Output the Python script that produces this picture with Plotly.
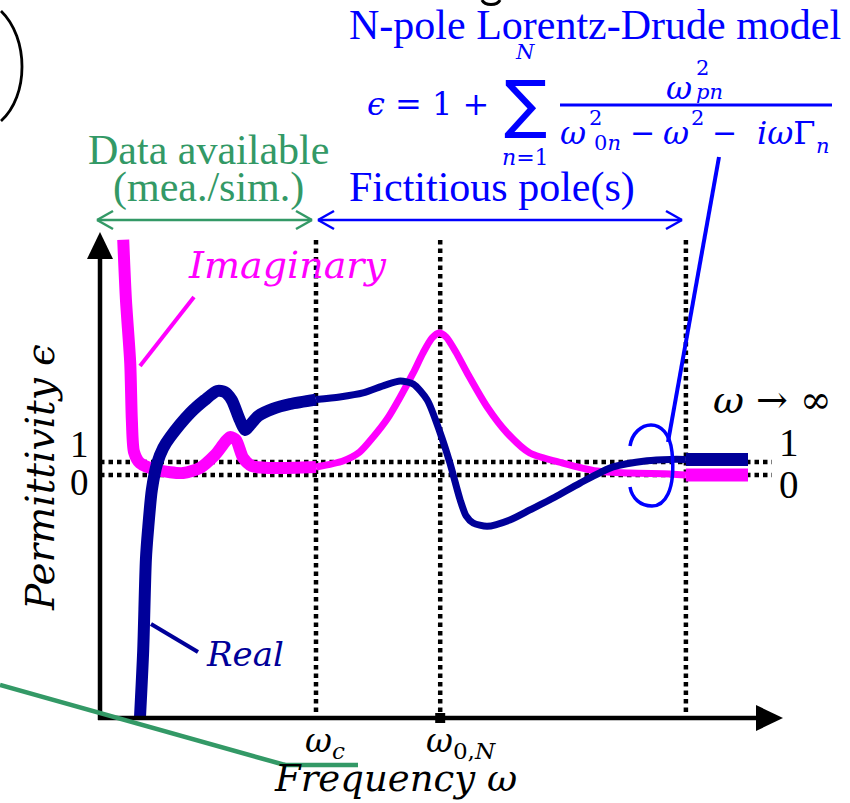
import plotly.graph_objects as go

# ---------------- data (arbitrary schematic units) ----------------
# frequency axis: omega ; permittivity axis: epsilon
omega_c = 4.0
omega_0N = 6.3
omega_inf = 10.85

real_x = [0.74, 0.80, 0.85, 0.89, 0.96, 1.06, 1.17, 1.30, 1.67, 1.94, 2.17, 2.31, 2.44, 2.59,
          2.69, 2.78, 2.93, 3.20, 3.52, 4.00, 4.44, 4.87, 5.28, 5.56, 5.80, 6.06, 6.30, 6.48,
          6.67, 6.78, 6.91, 7.17, 7.59, 7.96, 8.43, 8.89, 9.50, 10.13, 10.56, 10.85, 12.00]
real_y = [-18.7, -13.5, -6.5, -4.2, -1.15, 0.92, 2.08, 2.92, 4.77, 5.77, 6.46, 6.38, 5.77, 4.23,
          3.46, 3.85, 4.54, 5.08, 5.46, 5.80, 6.00, 6.31, 6.92, 7.23, 7.0, 5.77, 3.23, 0.92,
          -1.92, -3.15, -3.69, -3.95, -3.46, -2.69, -1.69, -0.62, 0.62, 1.1, 1.2, 1.2, 1.2]

imag_x = [0.43, 0.48, 0.56, 0.59, 0.63, 0.74, 1.06, 1.54, 1.85, 2.13, 2.41, 2.52, 2.65, 2.81,
          3.15, 4.00, 4.50, 4.81, 5.06, 5.33, 5.56, 5.80, 5.98, 6.15, 6.28, 6.41, 6.59, 6.80,
          7.17, 7.54, 7.96, 8.57, 9.20, 9.81, 10.56, 10.85, 12.00]
imag_y = [18.1, 13.5, 8.6, 4.2, 1.77, 0.92, 0.38, 0.15, 0.54, 1.54, 2.92, 2.69, 1.31, 0.69,
          0.54, 0.62, 1.08, 1.77, 2.92, 4.38, 6.0, 7.85, 9.38, 10.54, 10.92, 10.62, 9.46, 7.85,
          5.23, 3.23, 1.69, 0.92, 0.31, 0.15, 0.08, 0.0, 0.0]

y_ticks = [1, 0]

# ---------------- helpers: pixel position -> axis units ----------------
W, H = 850, 803
def X(px):
    return (px - 100) / 54.0
def Y(py):
    return (475 - py) / 13.0

NAVY = "#000099"
MAG = "#FF00FF"
BLUE = "#0000FF"
GREEN = "#339966"
SERIF = "Liberation Serif"
MATH = "DejaVu Serif"

fig = go.Figure()

def seg(xs, ys, lo, hi):
    sx, sy = [], []
    for a, b in zip(xs, ys):
        if lo <= a <= hi:
            sx.append(a); sy.append(b)
    return sx, sy

# curve segments with different stroke widths
for xs, ys, col in [(imag_x, imag_y, MAG), (real_x, real_y, NAVY)]:
    for lo, hi, w in [(-1, omega_c, 12), (omega_c, omega_inf, 7), (omega_inf, 99, 13)]:
        sx, sy = seg(xs, ys, lo, hi)
        fig.add_trace(go.Scatter(x=sx, y=sy, mode="lines",
                                 line=dict(color=col, width=w, shape="spline", smoothing=0.7),
                                 hoverinfo="skip", showlegend=False))

# tick marker at omega_0N
fig.add_trace(go.Scatter(x=[omega_0N], y=[Y(718)], mode="markers",
                         marker=dict(symbol="square", size=10, color="black"),
                         hoverinfo="skip", showlegend=False))

shapes = []
def line(p1, p2, color, width, dash=None, layer="above"):
    d = dict(type="line", xref="x", yref="y", x0=X(p1[0]), y0=Y(p1[1]), x1=X(p2[0]), y1=Y(p2[1]),
             line=dict(color=color, width=width), layer=layer)
    if dash:
        d["line"]["dash"] = dash
    shapes.append(d)

def path(points, color, width=0, fill=None, closed=False, cmd=None):
    s = cmd
    if s is None:
        s = "M " + " L ".join(f"{X(a)},{Y(b)}" for a, b in points)
        if closed:
            s += " Z"
    d = dict(type="path", xref="x", yref="y", path=s, line=dict(color=color, width=width))
    if fill:
        d["fillcolor"] = fill
    shapes.append(d)

DOT = "4.5px,4px"
# dotted guide lines
for ox in [omega_c, omega_0N, omega_inf]:
    shapes.append(dict(type="line", xref="x", yref="y", x0=ox, x1=ox, y0=Y(240), y1=Y(718),
                       line=dict(color="black", width=4.5, dash=DOT), layer="below"))
for yv in y_ticks:
    shapes.append(dict(type="line", xref="x", yref="y", x0=X(100), x1=X(772), y0=yv, y1=yv,
                       line=dict(color="black", width=4.5, dash=DOT), layer="below"))

# axes with arrow heads
line((100, 720), (100, 255), "black", 4.5)
path([(100, 232), (87, 259), (113, 259)], "black", 0, fill="black", closed=True)
line((98, 718), (758, 718), "black", 4.5)
path([(783, 718), (756, 705), (756, 731)], "black", 0, fill="black", closed=True)

# range arrows
def dbl_arrow(xa, xb, yy, col):
    line((xa, yy), (xb, yy), col, 2.5)
    line((xa, yy), (xa + 16, yy - 9), col, 2.5)
    line((xa, yy), (xa + 16, yy + 9), col, 2.5)
    line((xb, yy), (xb - 16, yy - 9), col, 2.5)
    line((xb, yy), (xb - 16, yy + 9), col, 2.5)
dbl_arrow(97, 312, 220, GREEN)
dbl_arrow(318, 682, 220, BLUE)

# pointer lines
line((140, 366), (194, 297), MAG, 4)
line((151, 624), (198, 652), NAVY, 4)
line((719, 157), (668, 442), BLUE, 4)
def P(a, b):
    return f"{X(a)},{Y(b)}"
# loop around the asymptote
loop = ("M " + P(630, 446) + " C " + P(634, 420) + " " + P(668, 414) + " " + P(672, 452)
        + " C " + P(676, 492) + " " + P(664, 506) + " " + P(652, 506)
        + " C " + P(640, 506) + " " + P(632, 498) + " " + P(630, 487))
path(None, BLUE, 3.5, cmd=loop)
# green leader at bottom
line((0, 685), (285, 765), GREEN, 4.5)
line((284, 765), (358, 765), GREEN, 4.5)
# fragment of glyph at top edge
frag = "M " + P(482, 0) + " C " + P(485, 6) + " " + P(497, 6) + " " + P(500, 0)
path(None, "black", 3, cmd=frag)
# large closing parenthesis at top-left
paren = "M " + P(1, 11) + " C " + P(29, 38) + " " + P(29, 96) + " " + P(1, 121)
path(None, "black", 2.8, cmd=paren)
# fraction bar
line((560, 105), (832, 105), BLUE, 3)

ann = []
def txt(px, py, s, size, color, family=SERIF, angle=0, xanchor="center"):
    ann.append(dict(x=X(px), y=Y(py), xref="x", yref="y", text=s, showarrow=False,
                    font=dict(size=size, color=color, family=family),
                    xanchor=xanchor, yanchor="middle", textangle=angle))

txt(595, 25, "N-pole Lorentz-Drude model", 42, BLUE)
txt(208, 150, "Data available", 42, GREEN)
txt(208, 187, "(mea./sim.)", 42, GREEN)
txt(492, 187, "Fictitious pole(s)", 42, BLUE)

# formula
txt(428, 104, "<i>ϵ</i> = 1 +", 32, BLUE, MATH)
txt(525, 104, "∑", 64, BLUE, "DejaVu Sans")
txt(525, 52, "<i>N</i>", 21, BLUE, MATH)
txt(525, 157, "<i>n</i>=1", 22, BLUE, MATH)
txt(679, 88, "<i>ω</i>", 32, BLUE, MATH)
txt(702, 68, "2", 21, BLUE, MATH)
txt(709, 92, "<i>pn</i>", 21, BLUE, MATH)
txt(573, 133, "<i>ω</i>", 32, BLUE, MATH)
txt(595, 118, "2", 21, BLUE, MATH)
txt(607, 143, "0<i>n</i>", 21, BLUE, MATH)
txt(642, 132, "−", 30, BLUE, MATH)
txt(676, 133, "<i>ω</i>", 32, BLUE, MATH)
txt(697, 118, "2", 21, BLUE, MATH)
txt(724, 132, "−", 30, BLUE, MATH)
txt(786, 133, "<i>iω</i>Γ", 32, BLUE, MATH)
txt(823, 146, "<i>n</i>", 21, BLUE, MATH)

txt(287, 265, "<i>Imaginary</i>", 38, MAG, MATH)
txt(245, 654, "<i>Real</i>", 34, NAVY, MATH)
txt(40, 478, "<i>Permittivity ϵ</i>", 39, "black", MATH, angle=-90)
txt(395, 778, "<i>Frequency ω</i>", 37, "black", MATH)
txt(325, 742, "<i>ω</i><sub><i>c</i></sub>", 33, "black", MATH)
txt(461, 742, "<i>ω</i><sub>0,<i>N</i></sub>", 33, "black", MATH)
txt(772, 400, "<i>ω</i> → ∞", 38, "black", MATH)
txt(79, 444, str(y_ticks[0]), 37, "black")
txt(79, 482, str(y_ticks[1]), 37, "black")
txt(789, 442, str(y_ticks[0]), 39, "black")
txt(789, 484, str(y_ticks[1]), 39, "black")

fig.update_layout(
    width=W, height=H, margin=dict(l=0, r=0, t=0, b=0),
    paper_bgcolor="white", plot_bgcolor="white",
    xaxis=dict(range=[X(0), X(W)], visible=False, fixedrange=True),
    yaxis=dict(range=[Y(H), Y(0)], visible=False, fixedrange=True),
    shapes=shapes, annotations=ann, showlegend=False,
)
fig.write_html("out.html", config={"displayModeBar": False},
               post_script="document.body.style.margin='0';document.body.style.padding='0';"
                           "document.body.style.overflow='hidden';")
